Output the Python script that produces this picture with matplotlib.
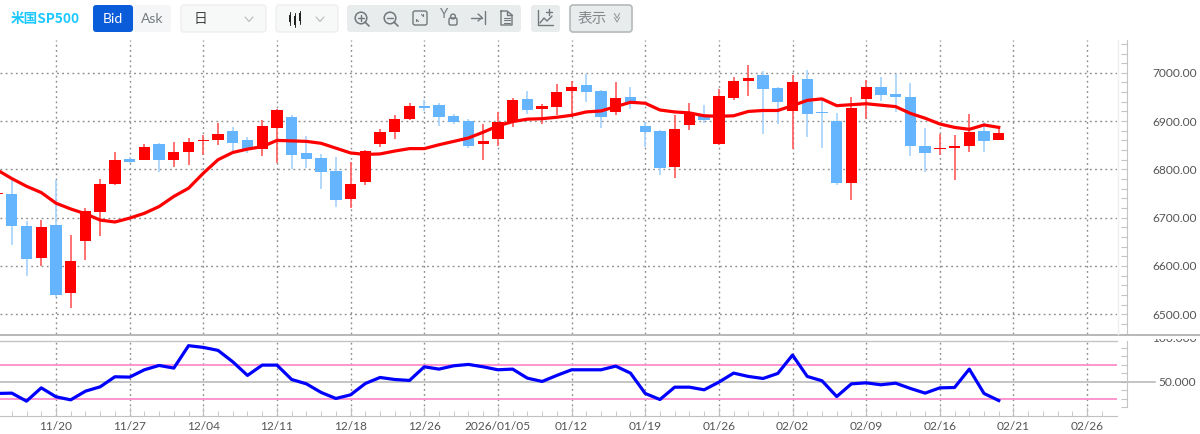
import numpy as np
import matplotlib
matplotlib.use('Agg')
import matplotlib.pyplot as plt
from matplotlib.patches import FancyBboxPatch, Circle, Rectangle
from matplotlib.transforms import Bbox

W, H = 1200, 434

# bars, first one is cut off by the left edge
bar_pos = np.arange(-4, 65)

opens = [6749, 6749, 6683, 6617, 6684, 6544, 6651, 6712, 6769, 6822, 6820, 6852, 6820, 6836, 6858, 6860, 6879,
         6860, 6843, 6885, 6908, 6833, 6824, 6796, 6738, 6773, 6852, 6878, 6905, 6932, 6934, 6910, 6901, 6853,
         6863, 6899, 6945, 6926, 6930, 6963, 6974, 6963, 6918, 6950, 6889, 6880, 6805, 6891, 6910, 6852, 6948,
         6983, 6996, 6969, 6920, 6987, 6919, 6900, 6771, 6946, 6970, 6957, 6950, 6848, 6842, 6845, 6849, 6880, 6861]
closes = [6751, 6682, 6614, 6681, 6539, 6610, 6714, 6769, 6820, 6816, 6847, 6819, 6835, 6857, 6860, 6874, 6854,
          6842, 6890, 6923, 6830, 6821, 6794, 6736, 6770, 6838, 6877, 6905, 6931, 6927, 6909, 6899, 6848, 6858,
          6898, 6944, 6922, 6932, 6961, 6970, 6960, 6909, 6947, 6940, 6878, 6803, 6883, 6915, 6903, 6952, 6983,
          6990, 6966, 6939, 6981, 6914, 6916, 6771, 6928, 6970, 6954, 6950, 6848, 6834, 6845, 6849, 6878, 6859, 6876]
highs = [6752, 6778, 6693, 6695, 6778, 6664, 6720, 6780, 6835, 6825, 6853, 6854, 6856, 6865, 6872, 6897, 6887,
         6868, 6903, 6925, 6912, 6869, 6831, 6825, 6816, 6840, 6883, 6912, 6937, 6943, 6937, 6914, 6904, 6894,
         6919, 6947, 6963, 6935, 6976, 6983, 6998, 6964, 6980, 6970, 6899, 6881, 6913, 6937, 6933, 6966, 6991,
         7017, 7004, 6970, 6996, 7006, 6948, 6916, 6950, 6985, 6991, 6997, 6979, 6885, 6874, 6872, 6914, 6899, 6887]
lows = [6748, 6644, 6580, 6599, 6535, 6512, 6613, 6662, 6767, 6814, 6819, 6794, 6805, 6810, 6830, 6850, 6837,
        6834, 6827, 6813, 6800, 6802, 6760, 6722, 6720, 6767, 6847, 6863, 6903, 6920, 6889, 6894, 6845, 6820,
        6849, 6887, 6915, 6893, 6912, 6908, 6939, 6885, 6913, 6925, 6847, 6789, 6783, 6881, 6896, 6851, 6944,
        6951, 6873, 6893, 6843, 6867, 6844, 6768, 6736, 6905, 6941, 6918, 6827, 6795, 6830, 6778, 6837, 6835, 6860]

ma_line = [6799, 6781, 6765, 6752, 6730, 6718, 6708, 6695, 6691, 6699, 6709, 6723, 6744, 6761, 6792, 6820, 6835,
           6842, 6847, 6860, 6859, 6858, 6854, 6844, 6834, 6831, 6832, 6838, 6843, 6843, 6851, 6858, 6865, 6877,
           6890, 6899, 6904, 6905, 6908, 6912, 6919, 6921, 6930, 6939, 6937, 6923, 6919, 6917, 6911, 6910, 6911,
           6920, 6922, 6922, 6932, 6943, 6946, 6932, 6934, 6936, 6933, 6930, 6916, 6906, 6894, 6887, 6883, 6892, 6887]

rsi = [36.3, 36.7, 27.3, 42.9, 32.4, 28.8, 39.0, 44.1, 55.9, 55.5, 64.1, 69.2, 66.1, 92.4, 90.4, 86.9, 73.5,
       57.5, 69.6, 69.6, 52.7, 47.6, 37.5, 30.4, 34.7, 48.0, 55.1, 52.7, 51.6, 67.6, 64.9, 68.8, 70.4, 67.6,
       64.1, 64.9, 54.3, 50.4, 57.5, 64.1, 64.1, 64.1, 68.4, 60.2, 36.3, 29.2, 43.7, 43.7, 40.6, 49.6, 60.2,
       56.3, 53.9, 59.8, 81.4, 56.3, 51.2, 32.7, 47.6, 48.8, 46.5, 48.4, 42.2, 36.7, 42.9, 43.3, 64.9, 36.3, 28.0]

date_ticks = [0, 5, 10, 15, 20, 25, 30, 35, 40, 45, 50, 55, 60, 65, 70]
date_labels = ['11/20', '11/27', '12/04', '12/11', '12/18', '12/26', '2026/01/05', '01/12', '01/19',
               '01/26', '02/02', '02/09', '02/16', '02/21', '02/26']
price_ticks = [6500, 6600, 6700, 6800, 6900, 7000]

RED = '#ff0000'
RED_WICK = '#ff5a5a'
BLUE = '#64b5fd'
BLUE_WICK = '#a4d3fd'
GRID = '#8c8c8c'
TXT = '#555555'
CJK = ['Noto Sans CJK JP', 'DejaVu Sans']

plt.rcParams['font.family'] = ['Lato', 'DejaVu Sans']


def pane(x0, y0, x1, y1):
    return fig.add_axes([x0 / W, 1 - y1 / H, (x1 - x0) / W, (y1 - y0) / H])


fig = plt.figure(figsize=(W / 100, H / 100), dpi=100, facecolor='white')

# price pane
ax = pane(0, 40, 1116.6, 334)
ax.set_xlim(-3.8, 72)
ax.set_ylim(6459, 7068)

opens_a = np.array(opens)
closes_a = np.array(closes)
up = closes_a >= opens_a
body_low = np.minimum(opens_a, closes_a)
body_h = np.maximum(np.abs(closes_a - opens_a), 3)
ax.vlines(bar_pos[up], np.array(lows)[up], np.array(highs)[up], color=RED_WICK, lw=1.2, zorder=2)
ax.vlines(bar_pos[~up], np.array(lows)[~up], np.array(highs)[~up], color=BLUE_WICK, lw=1.2, zorder=2)
ax.bar(bar_pos[up], body_h[up], bottom=body_low[up], width=0.77, color=RED, zorder=3)
ax.bar(bar_pos[~up], body_h[~up], bottom=body_low[~up], width=0.77, color=BLUE, zorder=3)
ax.plot(bar_pos, ma_line, color=RED, lw=2.3, zorder=4, solid_joinstyle='round')

ax.set_xticks(date_ticks)
ax.tick_params(axis='x', length=0, labelbottom=False)
ax.set_yticks(price_ticks)
ax.set_yticks(np.arange(6460, 7070, 20), minor=True)
ax.yaxis.tick_right()
ax.yaxis.set_major_formatter(lambda v, pos: f'{v:.2f}')
ax.tick_params(axis='y', which='both', direction='in', length=4.3, color='#c4c4c4', width=0.8,
               labelsize=8.6, labelcolor=TXT, pad=18.5)
ax.grid(True, color=GRID, lw=1.0, ls=(0, (1.3, 2.4)), zorder=1)
ax.set_axisbelow(True)
for s in ['top', 'left', 'bottom']:
    ax.spines[s].set_visible(False)
ax.spines['right'].set_position(('outward', 7.5))
ax.spines['right'].set_color('#c4c4c4')

# RSI pane
low = pane(0, 341, 1116.6, 415.7)
low.set_xlim(-3.8, 72)
low.set_ylim(10.2, 97.9)
low.axhline(70, color='#ff8ccb', lw=1.3, zorder=2)
low.axhline(30, color='#ff8ccb', lw=1.3, zorder=2)
low.axhline(50, xmax=1.034, color='#b4b4b4', lw=1.1, zorder=2, clip_on=False)
low.plot(bar_pos, rsi, color='#0000ff', lw=2.3, zorder=4)
low.set_xticks(date_ticks)
low.set_xticklabels(date_labels)
low.set_xticks(np.arange(-3, 72), minor=True)
low.tick_params(axis='x', which='major', direction='in', length=6.5, color='#c0c0c0', labelsize=8.6,
                labelcolor=TXT, pad=3.5)
low.tick_params(axis='x', which='minor', direction='in', length=3.6, color='#c0c0c0')
low.set_yticks([50])
low.set_yticks(np.arange(20, 100, 10), minor=True)
low.yaxis.tick_right()
low.tick_params(axis='y', which='both', direction='in', length=4.3, color='#c4c4c4', width=0.8,
                labelsize=8.6, labelcolor=TXT, pad=22.5)
low.yaxis.set_major_formatter(lambda v, pos: f'{v:.3f}')
low.grid(True, axis='x', color=GRID, lw=1.0, ls=(0, (1.3, 2.4)), zorder=1)
low.set_axisbelow(True)
for s in ['top', 'left']:
    low.spines[s].set_visible(False)
low.spines['bottom'].set_color('#c0c0c0')
low.spines['right'].set_position(('outward', 7.5))
low.spines['right'].set_color('#c4c4c4')
low.spines['right'].set_bounds(21, 97.9)

# overlay for the toolbar and the pane separators, in picture pixels
ov = fig.add_axes([0, 0, 1, 1], zorder=10)
ov.set_xlim(0, W)
ov.set_ylim(H, 0)
ov.axis('off')
ov.patch.set_alpha(0)


def box(x0, y0, x1, y1, fc, ec='none', r=3, lw=1.0):
    ov.add_patch(FancyBboxPatch((x0 + r, y0 + r), x1 - x0 - 2 * r, y1 - y0 - 2 * r,
                                boxstyle=f'round,pad={r},rounding_size={r}', fc=fc, ec=ec, lw=lw))


def line(xs, ys, color='#555555', lw=1.0):
    ov.plot(xs, ys, color=color, lw=lw, solid_capstyle='round', solid_joinstyle='round')


def chevron(x, y, color='#b5b9bb', s=4):
    line([x - s, x, x + s], [y - 2, y + 2.5, y - 2], color=color, lw=0.8)


ov.plot([0, W], [334.5, 334.5], color='#b8b8b8', lw=1.4)
ov.plot([0, 1116.6], [341, 341], color='#c4c4c4', lw=1.0)
ov.plot([1118, 1118], [40, 334], color='#efefef', lw=1.0)

# 100.000 label is half hidden under the separator
lab = ov.text(1197, 339, '100.000', ha='right', va='center', fontsize=8.6, color=TXT)
lab.set_clip_on(True)
lab.set_clip_box(Bbox([[1130, H - 412], [1200, H - 338.5]]))

ov.text(45, 19, '米国SP500', ha='center', va='center', fontsize=9.8, color='#1cc8ff',
        family=CJK, fontweight='bold')

box(133, 5, 171, 32, '#f5f6f7')
box(93, 5, 133, 32, '#0a5cd9')
ov.text(113, 19, 'Bid', ha='center', va='center', fontsize=10, color='white')
ov.text(152, 19, 'Ask', ha='center', va='center', fontsize=10, color='#777b7e')

box(181, 5, 266, 32, '#f7f8f8', ec='#eeeeee')
ov.text(200, 19, '日', ha='center', va='center', fontsize=10, color='#444444', family=CJK)
chevron(249, 19)

box(276, 5, 338, 32, '#f7f8f8', ec='#eeeeee')
for cx, y0, y1, t0, t1 in [(290, 15, 22, 12, 25), (295, 16, 25, 13, 27), (300, 13, 21, 11, 24)]:
    line([cx, cx], [t0, t1], color='#222222', lw=0.7)
    ov.add_patch(Rectangle((cx - 1.4, y0), 2.8, y1 - y0, fc='#222222', ec='none'))
chevron(320, 19)

# zoom, fit and other tools
box(347, 5, 521, 32, '#e9eced')
ic = '#72797c'
for cx, sign in [(361, True), (390, False)]:
    ov.add_patch(Circle((cx, 18), 5.8, fc='none', ec=ic, lw=1.1))
    line([cx + 4, cx + 8], [22, 26], color=ic, lw=1.2)
    line([cx - 2.6, cx + 2.6], [18, 18], color=ic, lw=1.0)
    if sign:
        line([cx, cx], [15.4, 20.6], color=ic, lw=1.0)
box(413, 11, 427, 25, 'none', ec=ic, r=2)
line([416.5, 416.5, 418.5], [21.5, 19.5, 21.5], color=ic, lw=0.8)
line([423.5, 423.5, 421.5], [14.5, 16.5, 14.5], color=ic, lw=0.8)
ov.text(444, 14.5, 'Y', ha='center', va='center', fontsize=9.5, color=ic)
box(449, 18, 457, 25, 'none', ec=ic, r=1.5)
ov.add_patch(Circle((453, 16.5), 2.4, fc='none', ec=ic, lw=1.0))
line([471, 482], [17.5, 17.5], color=ic)
line([478, 482, 478], [14, 17.5, 21], color=ic)
line([485, 485], [11, 24], color=ic)
line([501, 501, 512, 512, 507, 501], [11, 25, 25, 15, 11, 11], color=ic)
line([507, 507, 512], [11, 15, 15], color=ic)
for yy in [17.5, 20, 22.5]:
    line([503.5, 509.5], [yy, yy], color=ic, lw=0.8)

box(531, 5, 560, 32, '#e9eced')
line([538, 538, 553], [10, 25, 25], color=ic)
line([540, 544, 547, 552], [23, 18, 21, 16], color=ic)
line([546, 552], [12, 12], color=ic)
line([549, 549], [9, 15], color=ic)

box(570, 5, 632, 32, '#e9eced', ec='#b4b9ba', lw=1.2)
ov.text(592, 19, '表示', ha='center', va='center', fontsize=10.5, color='#85898b', family=CJK)
chevron(617, 15.5, color='#9a9ea0', s=2.6)
chevron(617, 19.5, color='#9a9ea0', s=2.6)

fig.savefig('out.png', dpi=100)
